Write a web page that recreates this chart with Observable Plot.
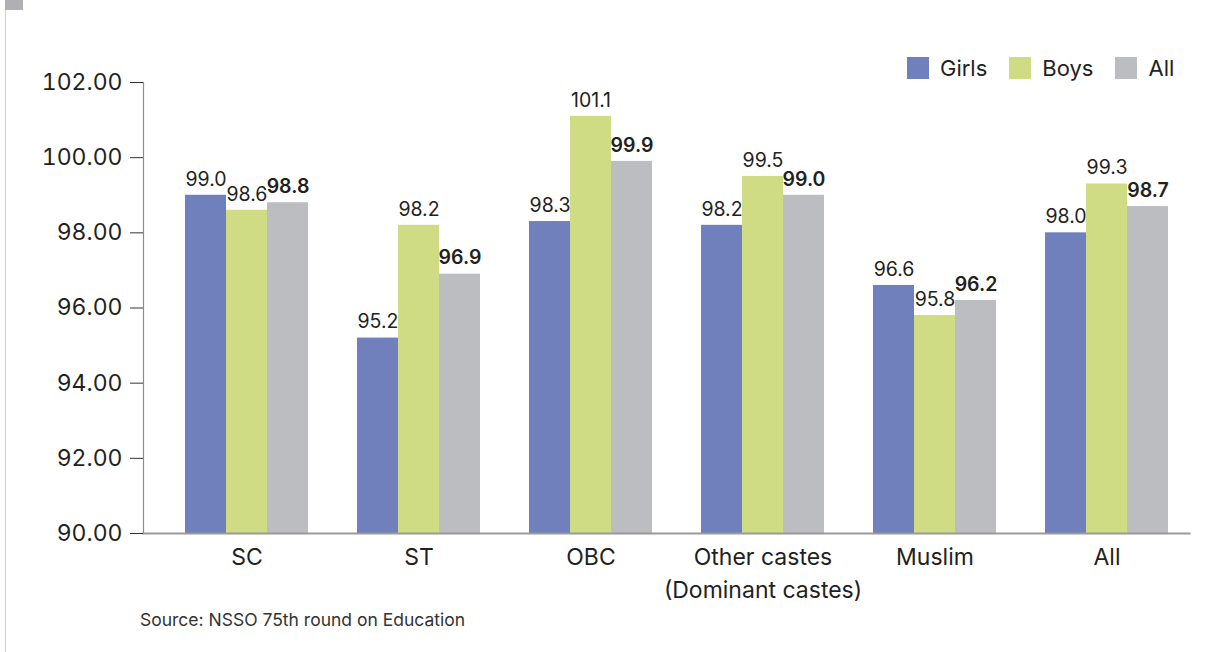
<!DOCTYPE html>
<html>
<head>
<meta charset="utf-8">
<script src="https://cdn.jsdelivr.net/npm/d3@7"></script>
<script src="https://cdn.jsdelivr.net/npm/@observablehq/plot@0.6"></script>
<style>
  body { margin: 0; background: #fff; font-family: Inter, sans-serif; color: #231f20; }
  #page { position: relative; width: 1229px; height: 652px; overflow: hidden; }
  #rule { position: absolute; left: 5px; top: 0; width: 1px; height: 652px; background: #cfcfd2; }
  #tab { position: absolute; left: 5px; top: 0; width: 18px; height: 10px; background: #b0b0b4; }
  #chart { position: absolute; left: 0; top: 0; }
  #legend { position: absolute; left: 907px; top: 51px; }
  #legend > div { font-size: 22px !important; font-family: Inter, sans-serif !important; color: #231f20 !important; margin: 0 !important; }
  #source { position: absolute; left: 140px; top: 609px; font-size: 17.5px; color: #333; }
</style>
</head>
<body>
<div id="page">
  <div id="rule"></div>
  <div id="tab"></div>
  <div id="chart"></div>
  <div id="legend"></div>
  <div id="source">Source: NSSO 75th round on Education</div>
</div>
<script>
// Groups along the x axis
const categories = ["SC", "ST", "OBC", "Other castes\n(Dominant castes)", "Muslim", "All"];
// Series within each group
const seriesNames = ["Girls", "Boys", "All"];
const girls = [99.0, 95.2, 98.3, 98.2, 96.6, 98.0];
const boys  = [98.6, 98.2, 101.1, 99.5, 95.8, 99.3];
const all   = [98.8, 96.9, 99.9, 99.0, 96.2, 98.7];
const seriesColors = ["#6f80bd", "#d0dc84", "#bcbdc1"];
const yDomain = [90, 102];
const yTicks = [90, 92, 94, 96, 98, 100, 102];

const values = {Girls: girls, Boys: boys, All: all};
const rows = categories.flatMap((cat, i) =>
  seriesNames.map(series => ({cat, series, value: values[series][i]}))
);

const ink = "#231f20";

const chart = Plot.plot({
  width: 1229,
  height: 652,
  marginLeft: 143,
  marginRight: 39,
  marginTop: 82,
  marginBottom: 119,
  style: {fontFamily: "Inter, sans-serif", fontSize: "23px", color: ink, background: "transparent"},
  fx: {domain: categories, paddingInner: 0, paddingOuter: 0.04, align: 0, axis: null, label: null},
  x: {domain: seriesNames, paddingInner: 0, paddingOuter: 0.583, align: 0.85, axis: null},
  y: {domain: yDomain},
  color: {domain: seriesNames, range: seriesColors},
  marks: [
    Plot.barY(rows, {fx: "cat", x: "series", y1: yDomain[0], y2: "value", fill: "series"}),
    Plot.frame({anchor: "left", facet: "super", stroke: "#8e8e90", strokeWidth: 1.2}),
    Plot.frame({anchor: "bottom", facet: "super", stroke: "#9a9a9c", strokeWidth: 2, insetRight: -14}),
    Plot.axisY(yTicks, {
      tickSize: 13, tickPadding: 8, stroke: "#333", fill: ink,
      tickFormat: d => d.toFixed(2), fontSize: 23, label: null
    }),
    // value labels: regular for Girls/Boys, bold for All
    Plot.text(rows.filter(d => d.series !== "All"), {
      fx: "cat", x: "series", y: "value", text: d => d.value.toFixed(1),
      dy: -16, fontSize: 19.5, fill: ink
    }),
    Plot.text(rows.filter(d => d.series === "All"), {
      fx: "cat", x: "series", y: "value", text: d => d.value.toFixed(1),
      dy: -16, fontSize: 19.5, fontWeight: 600, fill: ink
    }),
    // group names under the middle bar of each group
    Plot.text(categories, {
      fx: d => d, x: () => "Boys", y: () => yDomain[0], text: d => d,
      lineAnchor: "top", dy: 9, fontSize: 23, lineHeight: 1.4, fill: ink
    })
  ]
});
document.getElementById("chart").append(chart);

const legend = Plot.legend({
  color: {domain: seriesNames, range: seriesColors},
  swatchSize: 22
});
document.getElementById("legend").append(legend);
</script>
</body>
</html>
